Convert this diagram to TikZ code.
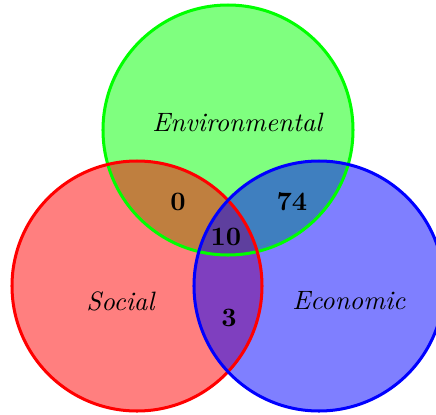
\documentclass[tikz,border=0pt]{standalone}
\begin{document}
\tikzset{every picture/.style={line width=0.35pt}}
\tikzset{setfill/.style={fill opacity=0.5, draw=none},
         setline/.style={line width=1.1pt},
         every node/.style={scale=0.97}}

\begin{tikzpicture}[x=0.365pt,y=0.365pt,yscale=-1]
  %bounding box as the reference, blue set is cut at the right
  \useasboundingbox (0,0) rectangle (436,414);
  \clip (0,0) rectangle (436,414);

  % fills first
  \fill [setfill, fill={rgb, 255:red, 0; green, 255; blue, 0 }]  (228,130) circle (125);
  \fill [setfill, fill={rgb, 255:red, 255; green, 0; blue, 0 }]  (137,286) circle (125);
  \fill [setfill, fill={rgb, 255:red, 0; green, 0; blue, 255 }]  (319,286) circle (125);

  % outlines on top
  \draw [setline, draw={rgb, 255:red, 0; green, 255; blue, 0 }]  (228,130) circle (125);
  \draw [setline, draw={rgb, 255:red, 255; green, 0; blue, 0 }]  (137,286) circle (125);
  \draw [setline, draw={rgb, 255:red, 0; green, 0; blue, 255 }]  (319,286) circle (125);

  \node (env) at (238,122) {\textit{Environmental}};
  \node (soc) at (121,301) {\textit{Social}};
  \node (eco) at (349,301) {\textit{Economic}};

  \node (es)  at (178,202) {\textbf{0}};
  \node (ee)  at (292,202) {\textbf{74}};
  \node (all) at (226,237) {\textbf{10}};
  \node (se)  at (229,318) {\textbf{3}};

\end{tikzpicture}
\end{document}
